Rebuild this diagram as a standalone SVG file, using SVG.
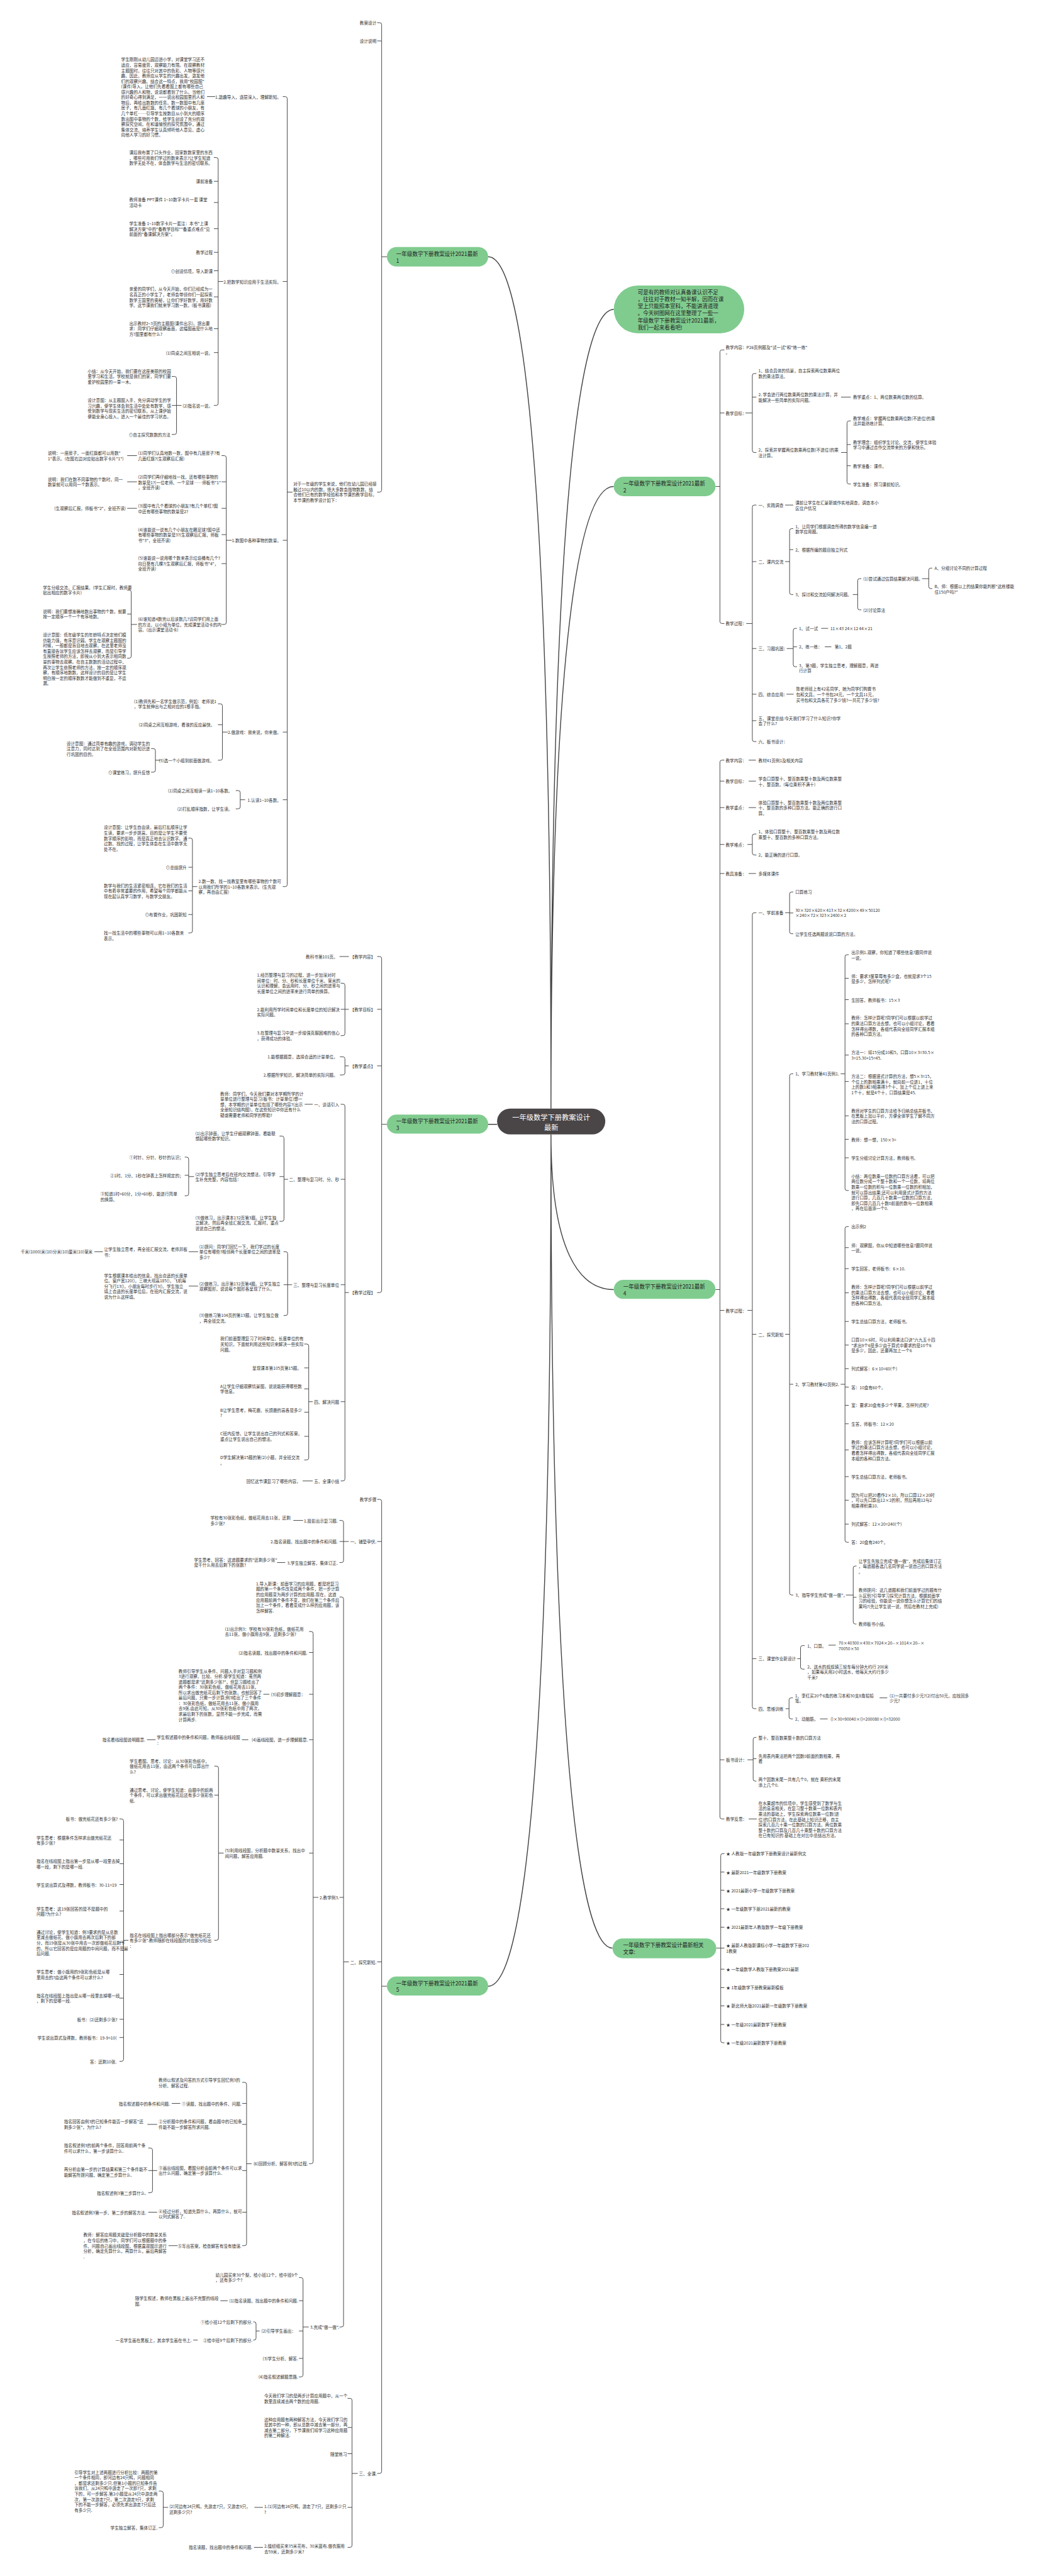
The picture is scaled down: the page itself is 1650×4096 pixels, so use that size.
<svg xmlns="http://www.w3.org/2000/svg" width="1650" height="4096" viewBox="0 0 1650 4096">
<style>
text{font-family:"Noto Sans CJK SC","Noto Sans",sans-serif;font-size:10.3px;fill:#333;dominant-baseline:central}
.e{text-anchor:end}
.g{font-size:13.3px;fill:#222}
.c{font-size:17.5px;fill:#fff;text-anchor:middle}
.l{fill:none;stroke:#444;stroke-width:1.5}
.m{fill:none;stroke:#444;stroke-width:2.2}
.nd{fill:#80cc8f}
</style>
<rect width="1650" height="4096" fill="#fff"/>
<g transform="scale(0.644)">
<g id="connectors">
<path class="m" d="M1360,2737C1360,1160 1290,634 1205,634M1360,2737C1360,1257 1430,764 1515,764M1360,2737C1360,1585 1430,1201 1515,1201M1227,2776H1205M1360,2801C1360,3088 1430,3184 1515,3184M1360,2801C1360,4378 1290,4904 1205,4904M1360,2801C1360,4308 1430,4810 1512,4810"/>
<path class="l" d="M955,634H942M942,61V1210M942,61Q942,56 937,56H931M942,101H931M942,1210Q942,1215 937,1215H931
M722,1215H709M709,243.5V2184M709,243.5Q709,238.5 704,238.5H698M709,695H698M709,1334H698M709,1807.6H698M709,1974.6H698M709,2184Q709,2189 704,2189H698
M531,238.5H511
M551,695H538.6M538.6,394V996M538.6,394Q538.6,389 533.6,389H528M538.6,447.6H528M538.6,500H528M538.6,564.7H528M538.6,623H528M538.6,668.5H528M538.6,733H528M538.6,811.6H528M538.6,870.6H528M538.6,996Q538.6,1001 533.6,1001H528
M448,1001H435.7M435.7,934.5V1067.6M435.7,934.5Q435.7,929.5 430.7,929.5H424M435.7,1001H424M435.7,1067.6Q435.7,1072.6 430.7,1072.6H424
M572,1334H558.6M558.6,1130V1536.8M558.6,1130Q558.6,1125 553.6,1125H547M558.6,1189.6H547M558.6,1255H547M558.6,1320H547M558.6,1391.6H547M558.6,1536.8Q558.6,1541.8 553.6,1541.8H547
M338,1125H314M338,1189.6H314M338,1255H314
M338,1541.8H324M324,1462V1620M324,1462Q324,1457 319,1457H314M324,1516H314M324,1620Q324,1625 319,1625H314
M562,1807.6H549M549,1742.7V1872M549,1742.7Q549,1737.7 544,1737.7H538M549,1789.4H538M549,1872Q549,1877 544,1877H538
M396,1877H383.6M383.6,1853.3V1901.5M383.6,1853.3Q383.6,1848.3 378.6,1848.3H373M383.6,1901.5Q383.6,1906.5 378.6,1906.5H373
M605,1974.6H593M593,1957V1992M593,1957Q593,1952 588,1952H582M593,1992Q593,1997 588,1997H582
M487,2189H475M475,2074.3V2298.4M475,2074.3Q475,2069.3 470,2069.3H465M475,2141.3H465M475,2199.6H465M475,2258H465M475,2298.4Q475,2303.4 470,2303.4H465
M955,2776H942M942,2366.7V3186.4M942,2366.7Q942,2361.7 937,2361.7H931M942,2492H931M942,2631.7H931M942,3186.4Q942,3191.4 937,3191.4H931
M861,2361.7H838
M861,2492H851.4M851.4,2432.6V2552M851.4,2432.6Q851.4,2427.6 846.4,2427.6H841M851.4,2492H841M851.4,2552Q851.4,2557 846.4,2557H841
M861,2631.7H851.4M851.4,2614.3V2649M851.4,2614.3Q851.4,2609.3 846.4,2609.3H839M851.4,2649Q851.4,2654 846.4,2654H839
M861,3191.4H851.4M851.4,2731.5V3651.5M851.4,2731.5Q851.4,2726.5 846.4,2726.5H841M851.4,2911.7H841M851.4,3172H841M851.4,3460.8H841M851.4,3651.5Q851.4,3656.5 846.4,3656.5H841
M772,2726.5H752
M711,2911.7H701M701,2810V3010.5M701,2810Q701,2805 696,2805H690M701,2905H690M701,3010.5Q701,3015.5 696,3015.5H690
M479,2905H465.7M465.7,2862V2947.4M465.7,2862Q465.7,2857 460.7,2857H456M465.7,2901.8H456M465.7,2947.4Q465.7,2952.4 460.7,2952.4H456
M721,3172H710M710,3095.5V3243M710,3095.5Q710,3090.5 705,3090.5H700M710,3172H700M710,3243Q710,3248 705,3248H700
M489,3090.5H466M254,3090.5H233M489,3175.4H466
M772,3460.8H762M762,3323.4V3599.6M762,3323.4Q762,3318.4 757,3318.4H751M762,3377.3H751M762,3429.2H751M762,3486.7H751M762,3546.4H751M762,3599.6Q762,3604.6 757,3604.6H751
M772,3656.5H747
M955,4904H942M942,3707V6102M942,3707Q942,3702 937,3702H931M942,3806H931M942,4844H931M942,6102Q942,6107 937,6107H931
M861,3806H848M848,3759V3853M848,3759Q848,3754 843,3754H838M848,3806H838M848,3853Q848,3858 843,3858H838
M748,3754H724M704,3858H684
M861,4844H848M848,3948V5740.4M848,3948Q848,3943 843,3943H838M848,4684.7H838M848,5740.4Q848,5745.4 843,5745.4H838
M786,4684.7H773M773,4033.3V5337.3M773,4033.3Q773,4028.3 768,4028.3H763M773,4080H763M773,4183.3H763M773,4295.4H763M773,4575.3H763M773,5337.3Q773,5342.3 768,5342.3H763
M665,4183.3H650M613,4295.4H597M384,4295.4H363
M552,4575.3H539.3M539.3,4365.6V4785.7M539.3,4365.6Q539.3,4360.6 534.3,4360.6H529M539.3,4432.2H529M539.3,4785.7Q539.3,4790.7 534.3,4790.7H529
M317,4790.7H305M305,4496V5084.5M305,4496Q305,4491 300,4491H295M305,4543H295M305,4601.5H295M305,4653H295M305,4718.5H295M305,4796H295M305,4875H295M305,4933.4H295M305,4985.7H295M305,5030.6H295M305,5084.5Q305,5089.5 300,5089.5H295
M621,5342.3H608.6M608.6,5146.4V5539.6M608.6,5146.4Q608.6,5141.4 603.6,5141.4H598M608.6,5193.4H598M608.6,5245.2H598M608.6,5359.2H598M608.6,5462.1H598M608.6,5539.6Q608.6,5544.6 603.6,5544.6H598
M445,5193.4H424M388,5245.2H364
M388,5359.2H376.4M376.4,5308.6V5409M376.4,5308.6Q376.4,5303.6 371.4,5303.6H366M376.4,5359.2H366M376.4,5409Q376.4,5414 371.4,5414H366
M388,5462.1H366M438,5544.6H416
M762,5745.4H748M748,5628.5V5863.7M748,5628.5Q748,5623.5 743,5623.5H738M748,5680.6H738M748,5755.3H738M748,5823H738M748,5863.7Q748,5868.7 743,5868.7H738
M562,5680.6H544
M641,5755.3H632M632,5737.7V5772.8M632,5737.7Q632,5732.7 627,5732.7H625M632,5772.8Q632,5777.8 627,5777.8H625
M488,5777.8H477
M883,6107H869M869,5926.6V6284.5M869,5926.6Q869,5921.6 864,5921.6H858M869,5993.5H858M869,6058.3H858M869,6190.8H858M869,6284.5Q869,6289.5 864,6289.5H858
M649,6190.8H628
M415,6190.8H402.9M402.9,6155.6V6235.8M402.9,6155.6Q402.9,6150.6 397.9,6150.6H392M402.9,6235.8Q402.9,6240.8 397.9,6240.8H392
M649,6289.5H627
M1766,1201H1777M1777,869V1534.5M1777,869Q1777,864 1782,864H1788M1777,1019.7H1788M1777,1534.5Q1777,1539.5 1782,1539.5H1788
M1840,1019.7H1857M1857,927.2V1112.2M1857,927.2Q1857,922.2 1862,922.2H1867M1857,980.4H1867M1857,1112.2Q1857,1117.2 1862,1117.2H1867
M2076,980.4H2100
M2076,1117.2H2090.7M2090.7,1044.3V1190M2090.7,1044.3Q2090.7,1039.3 2095.7,1039.3H2100M2090.7,1097.6H2100M2090.7,1150H2100M2090.7,1190Q2090.7,1195 2095.7,1195H2100
M1842,1539.5H1857M1857,1252V1826M1857,1252Q1857,1247 1862,1247H1867M1857,1386.6H1867M1857,1601.3H1867M1857,1714H1867M1857,1779.3H1867M1857,1826Q1857,1831 1862,1831H1867
M1938,1247H1958
M1938,1386.6H1949M1949,1310.2V1463M1949,1310.2Q1949,1305.2 1954,1305.2H1958M1949,1357H1958M1949,1463Q1949,1468 1954,1468H1958
M2105,1468H2117M2117,1433.7V1500.8M2117,1433.7Q2117,1428.7 2122,1428.7H2126M2117,1500.8Q2117,1505.8 2122,1505.8H2126
M2276,1428.7H2292.4M2292.4,1407.7V1448.2M2292.4,1407.7Q2292.4,1402.7 2297.4,1402.7H2301M2292.4,1448.2Q2292.4,1453.2 2297.4,1453.2H2301
M1942,1601.3H1958M1958,1556.5V1641.2M1958,1556.5Q1958,1551.5 1963,1551.5H1967M1958,1597H1967M1958,1641.2Q1958,1646.2 1963,1646.2H1967
M2027,1551.5H2044M2036,1597H2052M1941,1714H1959
M1766,3184H1777M1777,1881.8V4486M1777,1881.8Q1777,1876.8 1782,1876.8H1788M1777,1928.7H1788M1777,1994H1788M1777,2085H1788M1777,2156.7H1788M1777,3235.4H1788M1777,4345H1788M1777,4486Q1777,4491 1782,4491H1788
M1848,1876.8H1866M1848,1928.7H1866M1848,1994H1866M1848,2156.7H1866M1848,4491H1868
M1845,2085H1857M1857,2064.2V2106M1857,2064.2Q1857,2059.2 1862,2059.2H1867M1857,2106Q1857,2111 1862,2111H1867
M1845,3235.4H1857M1857,2258.5V4213.8M1857,2258.5Q1857,2253.5 1862,2253.5H1867M1857,3294.4H1867M1857,4095.3H1867M1857,4213.8Q1857,4218.8 1862,4218.8H1867
M1938,2253.5H1949M1949,2207.3V2300.4M1949,2207.3Q1949,2202.3 1954,2202.3H1958M1949,2254.2H1958M1949,2300.4Q1949,2305.4 1954,2305.4H1958
M1938,3294.4H1949M1949,2656.3V3933.2M1949,2656.3Q1949,2651.3 1954,2651.3H1958M1949,3417.8H1958M1949,3933.2Q1949,3938.2 1954,3938.2H1958
M2075,2651.3H2085.7M2085.7,2362.3V2934.4M2085.7,2362.3Q2085.7,2357.3 2090.7,2357.3H2095M2085.7,2415.5H2095M2085.7,2468.2H2095M2085.7,2527.8H2095M2085.7,2605H2095M2085.7,2670.2H2095M2085.7,2755H2095M2085.7,2813H2095M2085.7,2858.7H2095M2085.7,2934.4Q2085.7,2939.4 2090.7,2939.4H2095
M2075,3417.8H2085.7M2085.7,3033.5V3802.9M2085.7,3033.5Q2085.7,3028.5 2090.7,3028.5H2095M2085.7,3080.4H2095M2085.7,3132.3H2095M2085.7,3192H2095M2085.7,3262.8H2095M2085.7,3321H2095M2085.7,3379.3H2095M2085.7,3424.8H2095M2085.7,3469.7H2095M2085.7,3515.3H2095M2085.7,3579.9H2095M2085.7,3645.8H2095M2085.7,3704H2095M2085.7,3763H2095M2085.7,3802.9Q2085.7,3807.9 2090.7,3807.9H2095
M2088,3938.2H2106M2106,3871.6V4004.7M2106,3871.6Q2106,3866.6 2111,3866.6H2114M2106,3943.8H2114M2106,4004.7Q2106,4009.7 2111,4009.7H2114
M1968,4095.3H1976M1976,4068V4116.3M1976,4068Q1976,4063 1981,4063H1986M1976,4116.3Q1976,4121.3 1981,4121.3H1986
M2045,4062H2063
M1939,4218.8H1947.6M1947.6,4197.1V4239M1947.6,4197.1Q1947.6,4192.1 1952.6,4192.1H1957M1947.6,4239Q1947.6,4244 1952.6,4244H1957
M2171,4192.1H2190M2024,4244H2043
M1845,4345H1859M1859,4294.6V4392.7M1859,4294.6Q1859,4289.6 1864,4289.6H1867M1859,4342.3H1867M1859,4392.7Q1859,4397.7 1864,4397.7H1867
M1768,4810H1779M1779,4581.6V5038.6M1779,4581.6Q1779,4576.6 1784,4576.6H1788M1779,4622.2H1788M1779,4667H1788M1779,4712.7H1788M1779,4758.3H1788M1779,4810H1788M1779,4862H1788M1779,4907.4H1788M1779,4952.6H1788M1779,4998.5H1788M1779,5038.6Q1779,5043.6 1784,5043.6H1788"/>
</g>

<g id="center">
<rect x="1227" y="2737" width="267" height="64" rx="32" fill="#4a4546"/>
<text class="c" x="1360.5" y="2758">一年级数学下册教案设计</text>
<text class="c" x="1360.5" y="2782">最新</text>
</g>

<g id="intro">
<rect class="nd" x="1515" y="705" width="322" height="118" rx="59"/>
<text class="g" x="1574" y="720">可是有的教师对认真备课认识不足<tspan x="1574" dy="17.5">，往往对于教材一知半解，因而在课</tspan><tspan x="1574" dy="17.5">堂上只能照本宣科，不能讲清道理</tspan><tspan x="1574" dy="17.5">。今天树图网在这里整理了一些一</tspan><tspan x="1574" dy="17.5">年级数学下册教案设计2021最新，</tspan><tspan x="1574" dy="17.5">我们一起来看看吧!</tspan></text>
</g>

<g id="b1">
<rect class="nd" x="955" y="610" width="250" height="48" rx="24"/>
<text class="g" x="978" y="626.4">一年级数学下册教案设计2021最新<tspan x="978" dy="17">1</tspan></text>
</g>
<g id="b1-kids">
<text class="e" x="929" y="56">教案设计</text>
<text class="e" x="929" y="101">设计说明</text>
<text x="724" y="1194">对于一年级的学生来说，他们在幼儿园已经接<tspan x="724" dy="13.3">触过10以内的数，绝大多数会指物数数，结</tspan><tspan x="724" dy="13.3">合他们已有的数学经验和本节课的教学目标，</tspan><tspan x="724" dy="13.3">本节课的教学设计如下：</tspan></text>
<text class="e" x="694" y="238.5">1.激趣导入，逐层深入，理解新知。</text>
<text class="e" x="694" y="695">2.把数学知识应用于生活实际。</text>
<text class="e" x="694" y="1334">1.数图中各种事物的数量。</text>
<text class="e" x="694" y="1807.6">2.做游戏：我来说，你来做。</text>
<text class="e" x="694" y="1974.6">1.认读1~10各数。</text>
<text x="490" y="2175.8">2.数一数、找一找教室里有哪些事物的个数可<tspan x="490" dy="13.3">以用我们所学的1~10各数来表示。(生先观</tspan><tspan x="490" dy="13.3">察，再自由汇报)</tspan></text>
<text x="299" y="146.6">学生刚刚从幼儿园迈进小学，对课堂学习还不<tspan x="299" dy="13.3">适应，容易疲劳，观察能力有限。在观察教材</tspan><tspan x="299" dy="13.3">主题图时，往往只对其中的色彩、人物等感兴</tspan><tspan x="299" dy="13.3">趣。因此，教师应从学生的兴趣出发，激发他</tspan><tspan x="299" dy="13.3">们的观察兴趣。结合这一特点，我用"校园图"</tspan><tspan x="299" dy="13.3">(课件)导入，让他们先看看图上都有哪些自己</tspan><tspan x="299" dy="13.3">感兴趣的人和物，说说都看到了什么。当他们</tspan><tspan x="299" dy="13.3">的好奇心得到满足，一一说出校园图里的人和</tspan><tspan x="299" dy="13.3">物后，再给出数数的任务。数一数图中有几座</tspan><tspan x="299" dy="13.3">房子，有几面红旗，有几个看球的小朋友，有</tspan><tspan x="299" dy="13.3">几个单杠……引导学生按数目从小到大的顺序</tspan><tspan x="299" dy="13.3">数出图中事物的个数，给学生创设了充分的观</tspan><tspan x="299" dy="13.3">察探究空间。在和谐愉悦的探究氛围中，通过</tspan><tspan x="299" dy="13.3">集体交流，培养学生认真倾听他人意见、虚心</tspan><tspan x="299" dy="13.3">向他人学习的好习惯。</tspan></text>
<text x="319" y="376">课后我布置了口头作业，回家数数家里的东西<tspan x="319" dy="13.3">，哪些可用我们学过的数来表示?让学生知道</tspan><tspan x="319" dy="13.3">数学无处不在，体会数学与生活的密切联系。</tspan></text>
<text class="e" x="525" y="447.6">课前准备</text>
<text x="319" y="493">教师准备 PPT课件 1~10数字卡片一套 课堂<tspan x="319" dy="13.3">活动卡</tspan></text>
<text x="319" y="551.4">学生准备 1~10数字卡片一套注：本书"上课<tspan x="319" dy="13.3">解决方案"中的"备教学目标""备重点难点"见</tspan><tspan x="319" dy="13.3">前面的"备课解决方案"。</tspan></text>
<text class="e" x="525" y="623">教学过程</text>
<text class="e" x="525" y="668.5">⊙创设情境，导入新课</text>
<text x="319" y="713.4">亲爱的同学们，从今天开始，你们已经成为一<tspan x="319" dy="13.3">名真正的小学生了，老师会带领你们一起探索</tspan><tspan x="319" dy="13.3">数学王国里的奥秘，让你们学好数学，用好数</tspan><tspan x="319" dy="13.3">学。这节课我们就来学习数一数。(板书课题)</tspan></text>
<text x="319" y="798">出示教材2~3页的主题图(课件出示)。提出要<tspan x="319" dy="13.3">求：同学们仔细观察画面，这幅图画是什么地</tspan><tspan x="319" dy="13.3">方?图里都有什么?</tspan></text>
<text class="e" x="525" y="870.6">(1)同桌之间互相说一说。</text>
<text class="e" x="525" y="1001">(2)指名说一说。</text>
<text x="216.4" y="915.5">小结：从今天开始，我们要在这座美丽的校园<tspan x="216.4" dy="13.3">里学习和生活，学校就是我们的家，同学们要</tspan><tspan x="216.4" dy="13.3">爱护校园里的一草一木。</tspan></text>
<text x="216.4" y="987.7">设计意图：从主题图入手，充分调动学生的学<tspan x="216.4" dy="13.3">习兴趣，使学生体会到生活中处处有数学，感</tspan><tspan x="216.4" dy="13.3">受到数学与现实生活的密切联系，从上课伊始</tspan><tspan x="216.4" dy="13.3">便能全身心投入，进入一个最佳的学习状态。</tspan></text>
<text class="e" x="420.7" y="1072.6">⊙自主探究数数的方法</text>
<text x="340.7" y="1118">(1)同学们认真地数一数，图中有几座房子?有<tspan x="340.7" dy="13.3">几面红旗?(生观察后汇报)</tspan></text>
<text x="340.7" y="1177">(2)同学们再仔细地找一找，还有哪些事物的<tspan x="340.7" dy="13.3">数量是1?(一位老师、一个足球……师板书"1"</tspan><tspan x="340.7" dy="13.3">，全班齐读)</tspan></text>
<text x="340.7" y="1249">(3)图中有几个看球的小朋友?有几个单杠?图<tspan x="340.7" dy="13.3">中还有哪些事物的数量是2?</tspan></text>
<text x="340.7" y="1306.8">(4)谁能说一说有几个小朋友在踢足球?图中还<tspan x="340.7" dy="13.3">有哪些事物的数量是3?(生观察后汇报，师板</tspan><tspan x="340.7" dy="13.3">书"3"，全班齐读)</tspan></text>
<text x="340.7" y="1377.6">(5)谁能说一说用哪个数来表示垃圾桶有几个?<tspan x="340.7" dy="13.3">向日葵有几棵?(生观察后汇报，师板书"4"，</tspan><tspan x="340.7" dy="13.3">全班齐读)</tspan></text>
<text x="340.7" y="1528.4">(6)谁知道4数完以后该数几?请同学们用上面<tspan x="340.7" dy="13.3">的方法，以小组为单位，完成课堂活动卡的内</tspan><tspan x="340.7" dy="13.3">容。(出示课堂活动卡)</tspan></text>
<text x="118" y="1118">说明：一座房子，一面红旗都可以用数"<tspan x="118" dy="13.3">1"表示。(在图右边对应贴出数字卡片"1")</tspan></text>
<text x="118" y="1183">说明：我们在数不同事物的个数时，同一<tspan x="118" dy="13.3">数量就可以用同一个数表示。</tspan></text>
<text class="e" x="310.7" y="1255">(生观察后汇报，师板书"2"，全班齐读)</text>
<text x="106" y="1450">学生分组交流，汇报结果。(学生汇报时，教师要<tspan x="106" dy="13.3">贴出相应的数字卡片)</tspan></text>
<text x="106" y="1509">说明：我们要想准确地数出事物的个数，就要<tspan x="106" dy="13.3">按一定顺序一个一个有序地数。</tspan></text>
<text x="106" y="1567">设计意图：低年级学生的年龄特点决定他们模<tspan x="106" dy="13.3">仿能力强，有序意识弱。学生在观察主题图的</tspan><tspan x="106" dy="13.3">时候，一般都是盲目地去观察，在这里老师没</tspan><tspan x="106" dy="13.3">有直接告诉学生应该怎样去观察，而是引导学</tspan><tspan x="106" dy="13.3">生按照老师的方法，即按从小到大表示相同数</tspan><tspan x="106" dy="13.3">量的事物去观察。在自主数数的活动过程中，</tspan><tspan x="106" dy="13.3">再次让学生依照老师的方法，按一定的顺序观</tspan><tspan x="106" dy="13.3">察，有顺序地数数。这样设计的目的是让学生</tspan><tspan x="106" dy="13.3">明白按一定的顺序数数才能做到不重复，不遗</tspan><tspan x="106" dy="13.3">漏。</tspan></text>
<text x="330.7" y="1731">(1)教师先和一名学生做示范，例如：老师说1<tspan x="330.7" dy="13.3">，学生就伸出与之相对应的1根手指。</tspan></text>
<text class="e" x="530" y="1789.4">(2)同桌之间互相游戏，看谁的反应最快。</text>
<text class="e" x="528" y="1877">(3)选一个小组到前面做游戏。</text>
<text x="164.3" y="1835">设计意图：通过简单有趣的游戏，调动学生的<tspan x="164.3" dy="13.3">注意力，同时达到了在全班范围内对新知识进</tspan><tspan x="164.3" dy="13.3">行巩固的目的。</tspan></text>
<text class="e" x="370" y="1906.5">⊙课堂练习，提升反馈</text>
<text class="e" x="573.6" y="1952">(1)同桌之间互相读一读1~10各数。</text>
<text class="e" x="573.6" y="1997">(2)打乱顺序指数，让学生读。</text>
<text x="256.4" y="2042.6">设计意图：让学生自由读，最后打乱顺序让学<tspan x="256.4" dy="13.3">生读，要求一步步提高，目的是让学生不要受</tspan><tspan x="256.4" dy="13.3">数字顺序的影响，而是真正地去认识数字。通</tspan><tspan x="256.4" dy="13.3">过数、找的过程，让学生体会在生活中数学无</tspan><tspan x="256.4" dy="13.3">处不在。</tspan></text>
<text class="e" x="460.7" y="2141.3">⊙总结提升</text>
<text x="256.4" y="2186">数学与我们的生活紧密相连，它在我们的生活<tspan x="256.4" dy="13.3">中有着非常重要的作用，希望每个同学都能从</tspan><tspan x="256.4" dy="13.3">现在起认真学习数学，与数学交朋友。</tspan></text>
<text class="e" x="460.7" y="2258">⊙布置作业，巩固新知</text>
<text x="256.4" y="2303.4">找一找生活中的哪些事物可以用1~10各数来<tspan x="256.4" dy="13.3">表示。</tspan></text>
</g>

<g id="b3">
<rect class="nd" x="955" y="2752" width="250" height="47" rx="23.5"/>
<text class="g" x="978" y="2767.8">一年级数学下册教案设计2021最新<tspan x="978" dy="17">3</tspan></text>
</g>
<g id="b3-kids">
<text class="e" x="926" y="2361.7">【教学内容】</text>
<text class="e" x="926" y="2492">【教学目标】</text>
<text class="e" x="926" y="2631.7">【教学重点】</text>
<text class="e" x="926" y="3191.4">【教学过程】</text>
<text class="e" x="833.6" y="2361.7">教科书第101页。</text>
<text x="634.3" y="2407">1.经历整理与复习的过程，进一步加深对时<tspan x="634.3" dy="13.3">间单位：时、分、秒和长度单位千米、毫米的</tspan><tspan x="634.3" dy="13.3">认识和理解，会运用时、分、秒之间的进率与</tspan><tspan x="634.3" dy="13.3">长度单位之间的进率来进行简单的换算。</tspan></text>
<text x="634.3" y="2492">2.能利用所学时间单位和长度单位的知识解决<tspan x="634.3" dy="13.3">实际问题。</tspan></text>
<text x="634.3" y="2550.4">3.在整理与复习中进一步增强克服困难的信心<tspan x="634.3" dy="13.3">，获得成功的体验。</tspan></text>
<text class="e" x="833.6" y="2609.3">1.能根据题意，选择合适的计量单位。</text>
<text class="e" x="833.6" y="2654">2.根据所学知识，解决简单的实际问题。</text>
<text class="e" x="837" y="2726.5">一、谈话引入</text>
<text class="e" x="837" y="2911.7">二、整理与复习时、分、秒</text>
<text class="e" x="837" y="3172">三、整理与复习长度单位</text>
<text class="e" x="837" y="3460.8">四、解决问题</text>
<text class="e" x="837" y="3656.5">五、全课小结</text>
<text x="543.6" y="2699.8">教师：同学们，今天我们要对本学期所学的计<tspan x="543.6" dy="13.3">量单位进行整理与复习(板书：计量单位)想一</tspan><tspan x="543.6" dy="13.3">想，本学期的计量单位包括了哪些内容?(出示</tspan><tspan x="543.6" dy="13.3">全册知识结构图)，在这些知识中你还有什么</tspan><tspan x="543.6" dy="13.3">疑惑需要老师和同学的帮助?</tspan></text>
<text x="482" y="2798">(1)出示钟面，让学生仔细观察钟面，看能联<tspan x="482" dy="13.3">想起哪些数学知识。</tspan></text>
<text x="482" y="2898.3">(2)学生独立思考后在班内交流想法，引导学<tspan x="482" dy="13.3">生补充完整，内容包括：</tspan></text>
<text x="482" y="3005.6">(3)做练习，出示课本132页第3题。让学生独<tspan x="482" dy="13.3">立解决，然后再全班汇报交流。汇报时，重点</tspan><tspan x="482" dy="13.3">说说自己的想法。</tspan></text>
<text class="e" x="452.9" y="2857">①时针、分针、秒针的认识；</text>
<text class="e" x="452.9" y="2901.8">②1时、1分、1秒在钟表上怎样规定的；</text>
<text x="247.9" y="2947.4">③知道1时=60分，1分=60秒，能进行简单<tspan x="247.9" dy="13.3">的换算。</tspan></text>
<text x="492" y="3077">(1)提问：同学们回忆一下，我们学过的长度<tspan x="492" dy="13.3">单位有哪些?相邻两个长度单位之间的进率是</tspan><tspan x="492" dy="13.3">多少?</tspan></text>
<text x="492" y="3169">(2)做练习，出示第132页第4题。让学生独立<tspan x="492" dy="13.3">观察图形，说说每个图形各呈现了什么。</tspan></text>
<text x="492" y="3246.8">(3)做练习第104页的第13题。让学生独立做<tspan x="492" dy="13.3">，再全班交流。</tspan></text>
<text x="257" y="3084">让学生独立思考，再全班汇报交流，老师并板<tspan x="257" dy="13.3">书：</tspan></text>
<text class="e" x="228.6" y="3090.5">千米(1000)米(10)分米(10)厘米(10)毫米</text>
<text x="257" y="3148.7">学生根据课本给出的信息，找出合适的长度单<tspan x="257" dy="13.3">位。窗户宽120()，三峡大坝高185()，飞机每</tspan><tspan x="257" dy="13.3">分飞行13()，小朋友每时步行3()。学生独立</tspan><tspan x="257" dy="13.3">填上合适的长度单位后，在班内汇报交流，说</tspan><tspan x="257" dy="13.3">说为什么这样填。</tspan></text>
<text x="543.6" y="3305">我们前面整理复习了时间单位、长度单位的有<tspan x="543.6" dy="13.3">关知识，下面就利用这些知识来解决一些实际</tspan><tspan x="543.6" dy="13.3">问题。</tspan></text>
<text class="e" x="744" y="3377.3">呈现课本第105页第15题。</text>
<text x="543.6" y="3422">A让学生仔细观察情景图，说说能获得哪些数<tspan x="543.6" dy="13.3">学信息。</tspan></text>
<text x="543.6" y="3481">B让学生思考，梅花鹿、长颈鹿的高各是多少<tspan x="543.6" dy="13.3">?</tspan></text>
<text x="543.6" y="3539">C班内反馈，让学生说出自己的列式和答案，<tspan x="543.6" dy="13.3">重点让学生说出自己的想法。</tspan></text>
<text x="543.6" y="3598">D学生解决第15题的第(2)小题，并全班交流<tspan x="543.6" dy="13.3">。</tspan></text>
<text class="e" x="742" y="3656.5">回忆这节课复习了哪些内容。</text>
</g>

<g id="b5">
<rect class="nd" x="955" y="4880" width="250" height="47" rx="23.5"/>
<text class="g" x="978" y="4895.2">一年级数学下册教案设计2021最新<tspan x="978" dy="17">5</tspan></text>
</g>
<g id="b5-kids">
<text class="e" x="929" y="3702">教学步骤</text>
<text class="e" x="929" y="3806">一、铺垫孕伏.</text>
<text class="e" x="929" y="4844">二、探究新知.</text>
<text class="e" x="930" y="6107">三、全课.</text>
<text class="e" x="833.6" y="3754">1.投影出示复习题.</text>
<text class="e" x="833.6" y="3806">2.指名读题，找出题中的条件和问题.</text>
<text class="e" x="833.6" y="3858">3.学生独立解答，集体订正.</text>
<text x="519.3" y="3747">学校有30张彩色纸，做纸花用去11张，还剩<tspan x="519.3" dy="13.3">多少张?</tspan></text>
<text x="479" y="3850.8">学生思考、回答：这道题要求的"还剩多少张"<tspan x="479" dy="13.3">是干什么用去后剩下的张数?</tspan></text>
<text x="632" y="3909.7">1.导入新课：前面学习的应用题，都是把复习<tspan x="632" dy="13.3">题的第一个条件改变成两个条件，把一步计算</tspan><tspan x="632" dy="13.3">的应用题变为两步计算的应用题.现在，这道</tspan><tspan x="632" dy="13.3">应用题前两个条件不变，我们在第二个条件后</tspan><tspan x="632" dy="13.3">加上一个条件，看看变成什么样的应用题，该</tspan><tspan x="632" dy="13.3">怎样解答.</tspan></text>
<text class="e" x="837" y="4684.7">2.教学例3.</text>
<text class="e" x="837" y="5745.4">3.完成"做一做".</text>
<text x="555" y="4021">(1)出示例3：学校有30张彩色纸，做纸花用<tspan x="555" dy="13.3">去11张，做小旗用去9张，还剩多少张?</tspan></text>
<text class="e" x="758.6" y="4080">(2)指名读题，找出题中的条件和问题.</text>
<text class="e" x="753.6" y="4183.3">(3)初步理解题意：</text>
<text class="e" x="760" y="4295.4">(4)画线段图，进一步理解题意.</text>
<text x="555" y="4568.3">(5)利用线段图，分析题中数量关系，找出中<tspan x="555" dy="13.3">间问题，解答应用题.</tspan></text>
<text class="e" x="760" y="5342.3">(6)回顾分析、解答例3的过程.</text>
<text x="440.7" y="4125">教师引导学生从条件、问题入手对复习题和例<tspan x="440.7" dy="13.3">3进行观察、比较、分析.使学生知道：虽然两</tspan><tspan x="440.7" dy="13.3">道题都是求"还剩多少张?"，但复习题给出了</tspan><tspan x="440.7" dy="13.3">两个条件：30张彩色纸，做纸花用去11张，</tspan><tspan x="440.7" dy="13.3">所以求出做完纸花后剩下的张数，也就回答了</tspan><tspan x="440.7" dy="13.3">最后问题，只需一步计算;例3给出了三个条件</tspan><tspan x="440.7" dy="13.3">：30张彩色纸，做纸花用去11张，做小旗用</tspan><tspan x="440.7" dy="13.3">去9张.由此可知，从30张彩色纸中用了两次，</tspan><tspan x="440.7" dy="13.3">求最后剩下的张数，显然不能一步完成，而需</tspan><tspan x="440.7" dy="13.3">计算两步.</tspan></text>
<text x="387" y="4289">学生叙述题中的条件和问题，教师画出线段图<tspan x="387" dy="13.3">：</tspan></text>
<text class="e" x="358.6" y="4295.4">指名看线段图说明题意.</text>
<text x="320" y="4347.3">学生看图、思考、讨论：从30张彩色纸中，<tspan x="320" dy="13.3">做纸花用去11张，由这两个条件可以算出什</tspan><tspan x="320" dy="13.3">么?</tspan></text>
<text x="320" y="4418.9">通过思考、讨论，使学生知道：由题中的前两<tspan x="320" dy="13.3">个条件，可以求出做完纸花后还有多少张彩色</tspan><tspan x="320" dy="13.3">纸.</tspan></text>
<text x="320" y="4777.3">指名在线段图上指出哪部分表示"做完纸花还<tspan x="320" dy="13.3">有多少张".教师随即在线段图的对应部分标出</tspan><tspan x="320" dy="13.3">：</tspan></text>
<text class="e" x="290.7" y="4491">板书：做完纸花还有多少张?</text>
<text x="90" y="4536.7">学生思考：根据条件怎样求出做完纸花还<tspan x="90" dy="13.3">有多少张?</tspan></text>
<text x="90" y="4595">指名在线段图上指出第一步是从哪一段里去掉<tspan x="90" dy="13.3">哪一段，剩下的是哪一段.</tspan></text>
<text class="e" x="288" y="4653">学生说出算式及得数，教师板书：30-11=19</text>
<text x="90" y="4712">学生思考：这19张回答的是不是题中的<tspan x="90" dy="13.3">问题?为什么?</tspan></text>
<text x="90" y="4770">通过讨论，使学生知道：例3要求的是从总数<tspan x="90" dy="13.3">里减去做纸花、做小旗用去两次后剩下的部</tspan><tspan x="90" dy="13.3">分，而19张是从30张中用去一次即做纸花后剩下</tspan><tspan x="90" dy="13.3">的，所以它回答的是应用题的中间问题，而不是最</tspan><tspan x="90" dy="13.3">后问题.</tspan></text>
<text x="90" y="4868.5">学生思考：做小旗用的9张彩色纸是从哪<tspan x="90" dy="13.3">里用去的?由这两个条件可以求什么?</tspan></text>
<text x="90" y="4926.8">指名在线段图上指出是从哪一段里去掉哪一段<tspan x="90" dy="13.3">，剩下的是哪一段.</tspan></text>
<text class="e" x="290" y="4985.7">板书：(2)还剩多少张?</text>
<text class="e" x="288" y="5030.6">学生说出算式及得数，教师板书：19-9=10(</text>
<text class="e" x="287.7" y="5089.5">答：还剩10张.</text>
<text x="391.4" y="5135">教师以叙述及问答的方式引导学生回忆例3的<tspan x="391.4" dy="13.3">分析、解答过程.</tspan></text>
<text class="e" x="595.7" y="5193.4">①读题，找出题中的条件、问题.</text>
<text class="e" x="419.3" y="5193.4">指名叙述题中的条件和问题.</text>
<text x="391.4" y="5238">②分析题中的条件和问题，看由题中的已知条<tspan x="391.4" dy="13.3">件能不能一步解答所求问题.</tspan></text>
<text x="157.9" y="5238">指名回答由例3的已知条件能否一步解答"还<tspan x="157.9" dy="13.3">剩多少张"，为什么?</tspan></text>
<text x="391.4" y="5352">③画出线段图，看图分析由前两个条件可以求<tspan x="391.4" dy="13.3">出什么问题，确定第一步该算什么.</tspan></text>
<text x="158" y="5297">指名叙述例3的前两个条件，回答用前两个条<tspan x="158" dy="13.3">件可以求什么，第一步该算什么.</tspan></text>
<text x="158" y="5355.7">再分析由第一步的计算结果和第三个条件能不<tspan x="158" dy="13.3">能解答所提问题，确定第二步算什么.</tspan></text>
<text class="e" x="360.7" y="5414">指名叙述例3第二步算什么.</text>
<text x="391.4" y="5459.3">④经过分析，知道先算什么，再算什么，就可<tspan x="391.4" dy="13.3">以列式解答了.</tspan></text>
<text class="e" x="360.7" y="5462">指名叙述例3第一步、第二步的解答方法.</text>
<text class="e" x="595.7" y="5544.6">⑤写出答案，检查解答有没有错误.</text>
<text x="205.7" y="5517.8">教师：解答应用题关键是分析题中的数量关系<tspan x="205.7" dy="13.3">，在今后的练习中，同学们可以根据题中的条</tspan><tspan x="205.7" dy="13.3">件、问题自己画出线段图，根据直观图示进行</tspan><tspan x="205.7" dy="13.3">分析，确定先算什么，再算什么，最后再解答</tspan><tspan x="205.7" dy="13.3">.</tspan></text>
<text x="532" y="5615.7">幼儿园买来30个梨，给小班12个，给中班9个<tspan x="532" dy="13.3">，还有多少个?</tspan></text>
<text class="e" x="735.7" y="5680.6">(1)指名读题，找出题中的条件和问题.</text>
<text x="333.6" y="5674">随学生叙述，教师在黑板上画出不完整的线段<tspan x="333.6" dy="13.3">图.</tspan></text>
<text class="e" x="730" y="5755.3">(2)引导学生画出：</text>
<text class="e" x="622.9" y="5732.7">①给小班12个后剩下的部分.</text>
<text class="e" x="622.9" y="5777.8">②给中班9个后剩下的部分.</text>
<text class="e" x="473" y="5777.8">一名学生画在黑板上，其余学生画在书上.</text>
<text class="e" x="735.7" y="5823">(3)学生分析、解答.</text>
<text class="e" x="735.7" y="5868.7">(4)指名叙述解题思路.</text>
<text x="652" y="5914.6">今天我们学习的是两步计算应用题中，从一个<tspan x="652" dy="13.3">数里连续减去两个数的应用题.</tspan></text>
<text x="652" y="5973">这种应用题有两种解答方法，今天我们学习的<tspan x="652" dy="13.3">是其中的一种，即从总数中减去第一部分，再</tspan><tspan x="652" dy="13.3">减去第二部分，下节课我们将学习这种应用题</tspan><tspan x="652" dy="13.3">的第二种解法.</tspan></text>
<text class="e" x="856.4" y="6058.3">随堂练习</text>
<text x="652" y="6188">1.(1)河边有24只鸭，游走了7只，还剩多少只<tspan x="652" dy="13.3">?</tspan></text>
<text x="417.9" y="6188">(2)河边有24只鸭，先游走7只，又游走9只，<tspan x="417.9" dy="13.3">还剩多少只?</tspan></text>
<text x="183.6" y="6103.6">引导学生对上述两题进行分析比较：两题的第<tspan x="183.6" dy="13.3">一个条件相同，即河边有24只鸭，问题相同</tspan><tspan x="183.6" dy="13.3">，都是求还剩多少只.但第1小题的已知条件告</tspan><tspan x="183.6" dy="13.3">诉我们，从24只鸭中游走了一次即7只，求剩</tspan><tspan x="183.6" dy="13.3">下的，可一步解答.第2小题是从24只中游走两</tspan><tspan x="183.6" dy="13.3">次，第一次游走7只，第二次游走9只，求剩</tspan><tspan x="183.6" dy="13.3">下的不能一步解答，必须先求出游走7只后还</tspan><tspan x="183.6" dy="13.3">有多少只.</tspan></text>
<text class="e" x="388.6" y="6240.8">学生独立解答，集体订正.</text>
<text x="652" y="6286">2.缝纫组买来35米花布，30米蓝布.做衣服用<tspan x="652" dy="13.3">去59米，还剩多少米?</tspan></text>
<text class="e" x="623" y="6289.5">指名读题，找出题中的条件和问题.</text>
</g>

<g id="b2">
<rect class="nd" x="1515" y="1177" width="251" height="48" rx="24"/>
<text class="g" x="1538.5" y="1192">一年级数学下册教案设计2021最新<tspan x="1538.5" dy="17">2</tspan></text>
</g>
<g id="b2-kids">
<text x="1791" y="857">教学内容：P26页例题及"试一试"和"练一练"<tspan x="1791" dy="13.3">。</tspan></text>
<text x="1791" y="1019.7">教学目标：</text>
<text x="1791" y="1539.5">教学过程：</text>
<text x="1872" y="915">1、结合具体的情景，自主探索两位数乘两位<tspan x="1872" dy="13.3">数的乘法算法。</tspan></text>
<text x="1872" y="974">2. 学会进行两位数乘两位数的乘法计算，并<tspan x="1872" dy="13.3">能解决一些简单的实际问题。</tspan></text>
<text x="1872" y="1111">2、探索并掌握两位数乘两位数(不进位)的乘<tspan x="1872" dy="13.3">法计算。</tspan></text>
<text x="2105.5" y="980.4">教学重点：1、两位数乘两位数的估算。</text>
<text x="2105.5" y="1032">教学难点：掌握两位数乘两位数(不进位)的乘<tspan x="2105.5" dy="13.3">法并能熟练计算。</tspan></text>
<text x="2105.5" y="1091">教学理念：组织学生讨论、交流，使学生体验<tspan x="2105.5" dy="13.3">学习中通过合作交流带来的方便和快乐。</tspan></text>
<text x="2105.5" y="1150">教学准备：课件。</text>
<text x="2105.5" y="1195">学生准备：预习课前知识。</text>
<text x="1872" y="1247">一、实践调查</text>
<text x="1872" y="1386.6">二、课内交流</text>
<text x="1872" y="1601.3">三、习题巩固：</text>
<text x="1872" y="1714">四、综合应用：</text>
<text x="1872" y="1773">五、课堂总结:今天我们学习了什么知识?你学<tspan x="1872" dy="13.3">会了什么?</tspan></text>
<text x="1872" y="1831">六、板书设计：</text>
<text x="1963" y="1240.7">课前让学生在汇景新城作实地调查，调查本小<tspan x="1963" dy="13.3">区住户情况</tspan></text>
<text x="1963" y="1299">1、让同学们根据调查所得的数学信息编一道<tspan x="1963" dy="13.3">数学应用题。</tspan></text>
<text x="1963" y="1357">2、根据所编的题目独立列式</text>
<text x="1963" y="1468">3、探讨和交流如何解决问题。</text>
<text x="2131" y="1428.7">(1)尝试通过估算结果解决问题。</text>
<text x="2131" y="1505.8">(2)讨论算法</text>
<text x="2306.6" y="1402.7">A、分组讨论不同的计算过程</text>
<text x="2306.6" y="1447.6">B、师：根据以上的结果你能判断"这栋楼能<tspan x="2306.6" dy="13.3">住150户吗?"</tspan></text>
<text x="1972" y="1551.5">1、试一试</text>
<text x="2049.6" y="1551.5">11×43 24×12 44×21</text>
<text x="1972" y="1597">2、练一练：</text>
<text x="2060" y="1597">第1、2题</text>
<text x="1972" y="1642.6">3、第3题，学生独立思考，理解题意，再进<tspan x="1972" dy="13.3">行计算</tspan></text>
<text x="1965" y="1700.9">陈老师班上有42名同学，她为同学们购置书<tspan x="1965" dy="13.3">包和文具，一个书包24元，一个文具11元，</tspan><tspan x="1965" dy="13.3">买书包和文具各花了多少钱?一共花了多少钱?</tspan></text>
</g>

<g id="b4">
<rect class="nd" x="1515" y="3160" width="251" height="47" rx="23.5"/>
<text class="g" x="1538.5" y="3175.8">一年级数学下册教案设计2021最新<tspan x="1538.5" dy="17">4</tspan></text>
</g>
<g id="b4-kids">
<text x="1791" y="1876.8">教学内容：</text>
<text x="1791" y="1928.7">教学目标：</text>
<text x="1791" y="1994">教学重点：</text>
<text x="1791" y="2085">教学难点：</text>
<text x="1791" y="2156.7">教具准备：</text>
<text x="1791" y="3235.4">教学过程：</text>
<text x="1792" y="4345">板书设计：</text>
<text x="1792" y="4491">教学反思：</text>
<text x="1872" y="1876.8">教材41页例1及相关内容</text>
<text x="1872" y="1922.4">学会口算整十、整百数乘整十数及两位数乘整<tspan x="1872" dy="13.3">十、整百数。(每位乘积不满十)</tspan></text>
<text x="1872" y="1980.6">体验口算整十、整百数乘整十数及两位数乘整<tspan x="1872" dy="13.3">十、整百数的多种口算方法。能正确的进行口</tspan><tspan x="1872" dy="13.3">算。</tspan></text>
<text x="1872" y="2052.9">1、体验口算整十、整百数乘整十数及两位数<tspan x="1872" dy="13.3">乘整十、整百数的多种口算方法。</tspan></text>
<text x="1872" y="2111">2、能正确的进行口算。</text>
<text x="1872" y="2156.7">多媒体课件</text>
<text x="1872" y="2253.5">一、学前准备</text>
<text x="1872" y="3294.4">二、探究新知</text>
<text x="1872" y="4095.3">三、课堂作业新设计</text>
<text x="1872" y="4218.8">四、思维训练</text>
<text x="1963" y="2202.3">口算练习</text>
<text x="1963" y="2246.5">30×320×620×413×32×4200×49×50120<tspan x="1963" dy="13.3">×240×72×323×2400×2</tspan></text>
<text x="1963" y="2305.4">让学生任选两题说说口算的方法。</text>
<text x="1963" y="2651.3">1、学习教材第41页例1.</text>
<text x="1963" y="3417.8">2、学习教材第42页例2.</text>
<text x="1963" y="3938.2">3、指导学生完成"做一做"。</text>
<text x="2101.3" y="2351">出示例1.观察，你知道了哪些信息?跟同伴说<tspan x="2101.3" dy="13.3">一说。</tspan></text>
<text x="2101.3" y="2409.2">师：要求3筐草莓有多少盒，也就是求3个15<tspan x="2101.3" dy="13.3">是多少，怎样列式呢?</tspan></text>
<text x="2101.3" y="2468.2">生回答，教师板书：15×3</text>
<text x="2101.3" y="2513">教师：怎样计算呢?同学们可以根据以前学过<tspan x="2101.3" dy="13.3">的乘法口算方法去想，也可以小组讨论，看看</tspan><tspan x="2101.3" dy="13.3">怎样得出得数，各组代表向全班同学汇报本组</tspan><tspan x="2101.3" dy="13.3">的各种口算方法。</tspan></text>
<text x="2101.3" y="2598">方法一：将15分成10和5，口算10×3=30.5×<tspan x="2101.3" dy="13.3">3=15.30+15=45.</tspan></text>
<text x="2101.3" y="2656.9">方法二：根据竖式计算的方法，想5×3=15，<tspan x="2101.3" dy="13.3">个位上的数相乘满十，就向前一位进1，十位</tspan><tspan x="2101.3" dy="13.3">上的数1和3相乘得3个十，加上个位上进上来</tspan><tspan x="2101.3" dy="13.3">1个十，就是4个十，口算结果是45.</tspan></text>
<text x="2101.3" y="2741.8">教师对学生的口算方法给予归纳总结并板书，<tspan x="2101.3" dy="13.3">在黑板上加以平价，方便全体学生了解不同方</tspan><tspan x="2101.3" dy="13.3">法的口算过程。</tspan></text>
<text x="2101.3" y="2813">教师：想一想，150×3=</text>
<text x="2101.3" y="2858.7">学生分组讨论计算方法，教师板书。</text>
<text x="2101.3" y="2903.6">小结：两位数乘一位数的口算方法看，可以把<tspan x="2101.3" dy="13.3">两位数分成一个整十数和一个一位数，将两位</tspan><tspan x="2101.3" dy="13.3">数乘一位数的积与一位数乘一位数的积相加，</tspan><tspan x="2101.3" dy="13.3">就可以算出结果;还可以利用竖式计算的方法</tspan><tspan x="2101.3" dy="13.3">进行口算，几百几十数乘一位数的口算方法，</tspan><tspan x="2101.3" dy="13.3">即先口算几百几十数0前面的数与一位数相乘</tspan><tspan x="2101.3" dy="13.3">，再在后面添一个0.</tspan></text>
<text x="2101.3" y="3028.5">出示例2</text>
<text x="2101.3" y="3074">师：观察图，你从中知道哪些信息?跟同伴说<tspan x="2101.3" dy="13.3">一说。</tspan></text>
<text x="2101.3" y="3132.3">学生回答，老师板书：6×10.</text>
<text x="2101.3" y="3177">教师：怎样计算呢?同学们可以根据以前学过<tspan x="2101.3" dy="13.3">的乘法口算方法去想，也可以小组讨论，看看</tspan><tspan x="2101.3" dy="13.3">怎样得出得数，各组代表向全班同学汇报本组</tspan><tspan x="2101.3" dy="13.3">的各种口算方法。</tspan></text>
<text x="2101.3" y="3262.8">学生总结口算方法，老师板书。</text>
<text x="2101.3" y="3307.7">口算10×6时，可以利用乘法口诀"六九五十四<tspan x="2101.3" dy="13.3">"求出9个6是多少由于算式中要求的是10个6</tspan><tspan x="2101.3" dy="13.3">是多少，因此，还要再加上一个6</tspan></text>
<text x="2101.3" y="3379.3">列式解答：6×10=60(个)</text>
<text x="2101.3" y="3424.8">答：10盒有60个。</text>
<text x="2101.3" y="3469.7">室：要求20盒有多少个苹果，怎样列式呢?</text>
<text x="2101.3" y="3515.3">生答，师板书：12×20</text>
<text x="2101.3" y="3560.3">教师：应该怎样计算呢?同学们可以根据以前<tspan x="2101.3" dy="13.3">学过的乘法口算方法去想，也可以小组讨论，</tspan><tspan x="2101.3" dy="13.3">看看怎样得出得数，各组代表向全班同学汇报</tspan><tspan x="2101.3" dy="13.3">本组的各种口算方法。</tspan></text>
<text x="2101.3" y="3645.8">学生总结口算方法，老师板书。</text>
<text x="2101.3" y="3690.7">因为可以把20看作2×10，所以口算12×20时<tspan x="2101.3" dy="13.3">，可以先口算出12×2的积，然后再用12与2</tspan><tspan x="2101.3" dy="13.3">相乘得积乘10.</tspan></text>
<text x="2101.3" y="3763">列式解答：12×20=240(个)</text>
<text x="2101.3" y="3807.9">答：20盒有240个。</text>
<text x="2119.3" y="3853.3">让学生先独立完成"做一做"，完成后集体订正<tspan x="2119.3" dy="13.3">，每道题各选几名同学说一说自己的口算方法</tspan><tspan x="2119.3" dy="13.3">。</tspan></text>
<text x="2119.3" y="3925.6">教师提问：这几道题和我们前面学过的题有什<tspan x="2119.3" dy="13.3">么区别?引导学习探究计算方法，根据前面学</tspan><tspan x="2119.3" dy="13.3">习的经验，你能说一说你想怎么计算它们的结</tspan><tspan x="2119.3" dy="13.3">果吗?(先让学生说一说，然后在教材上完成)</tspan></text>
<text x="2119.3" y="4009.7">教师板书小结。</text>
<text x="1992.7" y="4063">1、口算。</text>
<text x="2070" y="4056">70×40300×430×7024×20--×1014×20--×<tspan x="2070" dy="13.3">70050×50</tspan></text>
<text x="1992.7" y="4114.3">2、送水的叔叔骑三轮车每分钟大约行 200米<tspan x="1992.7" dy="13.3">，如果每天用2小时送水，他每天大约行多少</tspan><tspan x="1992.7" dy="13.3">千米?</tspan></text>
<text x="1962.4" y="4185.8">1、李红买20个6角的练习本和30支8角铅铅<tspan x="1962.4" dy="13.3">笔。</tspan></text>
<text x="2195.7" y="4185.8">(1)一共要付多少元?(2)付出50元，应找回多<tspan x="2195.7" dy="13.3">少元?</tspan></text>
<text x="1962.4" y="4244">2、动脑筋。</text>
<text x="2050" y="4244">()×30=90040×()=200080×()=32000</text>
<text x="1872" y="4289.6">整十、整百数乘整十数的口算方法</text>
<text x="1872" y="4335">先用表内乘法把两个因数0前面的数相乘，再<tspan x="1872" dy="13.3">看</tspan></text>
<text x="1872" y="4393.5">两个因数末尾一共有几个0，就在 乘积的末尾<tspan x="1872" dy="13.3">添上几个0.</tspan></text>
<text x="1872" y="4451.7">在水果超市的情境中，学生感受到了数学与生<tspan x="1872" dy="13.3">活的息息相关，在复习整十数乘一位数和表内</tspan><tspan x="1872" dy="13.3">乘法的基础上，学生探索两位数乘一位数(进</tspan><tspan x="1872" dy="13.3">位)的口算方法，在此基础上知识迁移，自主</tspan><tspan x="1872" dy="13.3">探索几百几十乘一位数的口算方法。两位数乘</tspan><tspan x="1872" dy="13.3">整十数的口算及几百几十乘整十数的口算方法</tspan><tspan x="1872" dy="13.3">在已有知识的 基础上在对比中总结出方法。</tspan></text>
</g>

<g id="rel">
<rect class="nd" x="1512" y="4786" width="256" height="49" rx="24.5"/>
<text class="g" x="1538" y="4801">一年级数学下册教案设计最新相关<tspan x="1538" dy="17.6">文章:</tspan></text>
</g>
<g id="rel-kids">
<text x="1792.4" y="4576.6">★ 人教版一年级数学下册教案设计最新例文</text>
<text x="1792.4" y="4622.2">★ 最新2021一年级数学下册教案</text>
<text x="1792.4" y="4667">★ 2021最新小学一年级数学下册教案</text>
<text x="1792.4" y="4712.7">★ 一年级数学下册2021最新的教案</text>
<text x="1792.4" y="4758.3">★ 2021最新年人教版数学一年级下册教案</text>
<text x="1792.4" y="4803">★ 最新人教版新课标小学一年级数学下册202<tspan x="1792.4" dy="13.3">1教案</tspan></text>
<text x="1792.4" y="4862">★ 一年级数学人教版下册教案2021最新</text>
<text x="1792.4" y="4907.4">★ 1年级数学下册教案最新模板</text>
<text x="1792.4" y="4952.6">★ 新北师大版2021最新一年级数学下册教案</text>
<text x="1792.4" y="4998.5">★ 一年级2021最新数学下册教案</text>
<text x="1792.4" y="5043.6">★ 一年级2021最新数学下册教案</text>
</g>
</g>
</svg>
